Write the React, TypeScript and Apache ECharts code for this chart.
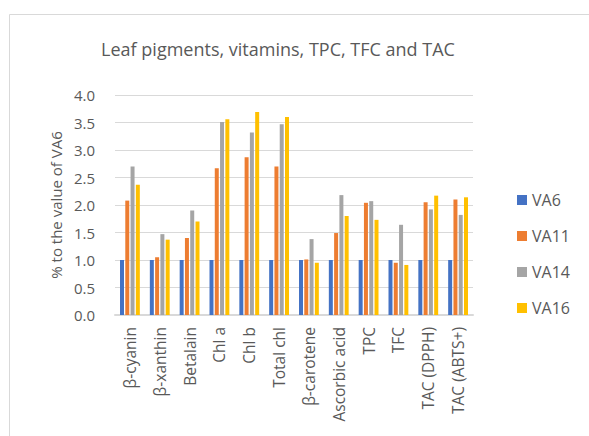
import React, { useEffect, useRef } from "react";
import * as echarts from "echarts";

const categories = [
  "β-cyanin", "β-xanthin", "Betalain", "Chl a", "Chl b", "Total chl",
  "β-carotene", "Ascorbic acid", "TPC", "TFC", "TAC (DPPH)", "TAC (ABTS+)",
];
const seriesNames = ["VA6", "VA11", "VA14", "VA16"];
const va6 = [1, 1, 1, 1, 1, 1, 1, 1, 1, 1, 1, 1];
const va11 = [2.08, 1.05, 1.40, 2.67, 2.87, 2.70, 1.01, 1.49, 2.04, 0.95, 2.05, 2.10];
const va14 = [2.70, 1.47, 1.90, 3.51, 3.32, 3.47, 1.38, 2.18, 2.07, 1.64, 1.92, 1.82];
const va16 = [2.37, 1.37, 1.70, 3.56, 3.69, 3.60, 0.95, 1.80, 1.73, 0.91, 2.17, 2.14];
const colors = ["#4472C4", "#ED7D31", "#A5A5A5", "#FFC000"];
const yTicks = [0, 0.5, 1, 1.5, 2, 2.5, 3, 3.5, 4];

const FONT = "'Open Sans', sans-serif";
const TEXT = "#595959";

export default function App() {
  const ref = useRef<HTMLDivElement>(null);
  useEffect(() => {
    if (!ref.current) return;
    const chart = echarts.init(ref.current, null, { renderer: "svg" });
    const data = [va6, va11, va14, va16];
    chart.setOption({
      animation: false,
      backgroundColor: "#ffffff",
      title: {
        text: "Leaf pigments, vitamins, TPC, TFC and TAC",
        left: 273,
        textAlign: "center",
        top: 35,
        textStyle: { fontFamily: FONT, fontSize: 18, fontWeight: "normal", color: TEXT },
      },
      graphic: [
        {
          type: "rect",
          shape: { x: 9.5, y: 14.5, width: 620, height: 460 },
          style: { fill: "none", stroke: "#d9d9d9", lineWidth: 1 },
          silent: true,
        },
      ],
      legend: {
        orient: "vertical",
        left: 512,
        top: 187,
        itemWidth: 10,
        itemHeight: 10,
        itemGap: 20,
        icon: "rect",
        data: seriesNames,
        textStyle: { fontFamily: FONT, fontSize: 16, color: TEXT },
      },
      grid: { left: 115, right: 116, top: 95, bottom: 121, containLabel: false },
      xAxis: {
        type: "category",
        data: categories,
        axisLine: { show: true, lineStyle: { color: "#d9d9d9", width: 2 } },
        axisTick: { show: false },
        axisLabel: {
          rotate: 90,
          interval: 0,
          margin: 12,
          fontFamily: FONT,
          fontSize: 15.5,
          color: TEXT,
        },
      },
      yAxis: {
        type: "value",
        min: 0,
        max: 4,
        interval: 0.5,
        name: "% to the value of VA6",
        nameLocation: "middle",
        nameGap: 49,
        nameTextStyle: { fontFamily: FONT, fontSize: 15, color: TEXT },
        axisLine: { show: false },
        axisTick: { show: false },
        axisLabel: {
          fontFamily: FONT,
          fontSize: 15,
          color: TEXT,
          margin: 20,
          formatter: (v: number) => (yTicks.includes(v) ? v.toFixed(1) : ""),
        },
        splitLine: { lineStyle: { color: "#d9d9d9", width: 1 } },
      },
      series: seriesNames.map((n, i) => ({
        name: n,
        type: "bar",
        data: data[i],
        itemStyle: { color: colors[i] },
        barWidth: 4,
        barGap: "32%",
        barCategoryGap: "28%",
      })),
    });
    return () => chart.dispose();
  }, []);
  return <div ref={ref} style={{ width: 589, height: 436, position: "absolute", left: 0, top: 0 }} />;
}
